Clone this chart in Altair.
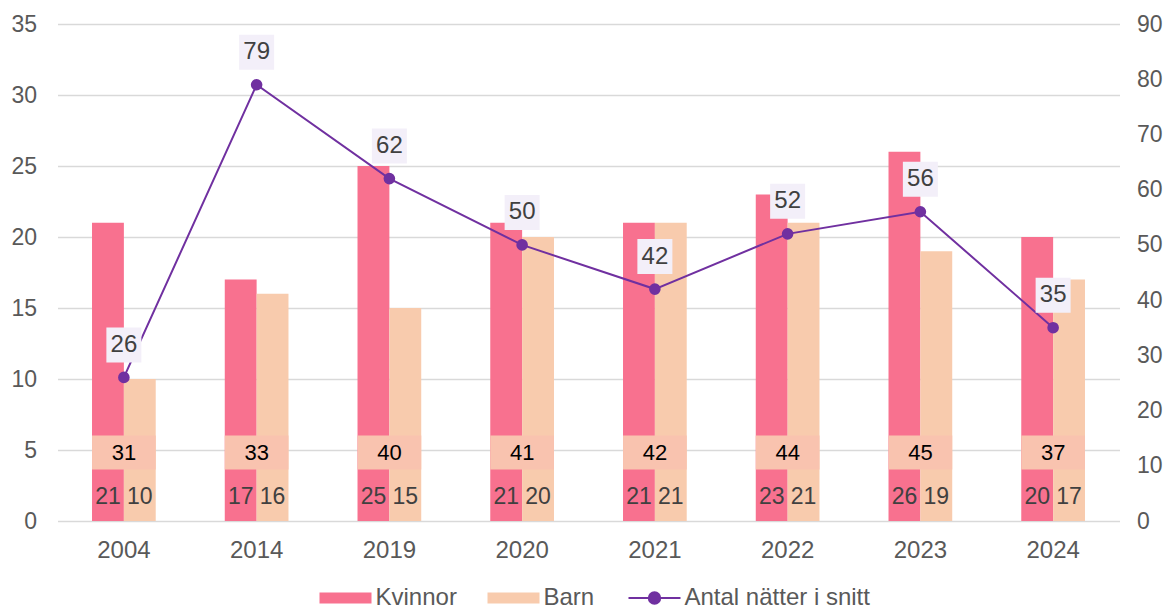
import altair as alt
import pandas as pd

years = ["2004", "2014", "2019", "2020", "2021", "2022", "2023", "2024"]
kvinnor = [21, 17, 25, 21, 21, 23, 26, 20]
barn = [10, 16, 15, 20, 21, 21, 19, 17]
totals = [31, 33, 40, 41, 42, 44, 45, 37]
natter = [26, 79, 62, 50, 42, 52, 56, 35]

series_names = ["Kvinnor", "Barn", "Antal nätter i snitt"]
series_colors = ["#F8718F", "#F8CBAD", "#7030A0"]

bars_df = pd.DataFrame(
    [{"year": y, "series": "Kvinnor", "value": v} for y, v in zip(years, kvinnor)]
    + [{"year": y, "series": "Barn", "value": v} for y, v in zip(years, barn)]
)
tot_df = pd.DataFrame({"year": years, "total": totals})
line_df = pd.DataFrame({"year": years, "natter": natter, "series": "Antal nätter i snitt"})

W, H = 1062, 497
FONT = "Liberation Sans"

xscale = alt.Scale(domain=years, paddingInner=0.52, paddingOuter=0.26)
x_enc = alt.X("year:N", scale=xscale, sort=years,
              axis=alt.Axis(title=None, domain=False, ticks=False, labelAngle=0,
                            labelFont=FONT, labelFontSize=24, labelColor="#595959",
                            labelPadding=17))
xoff = alt.XOffset("series:N", scale=alt.Scale(domain=["Kvinnor", "Barn"], paddingInner=0),
                   sort=["Kvinnor", "Barn"])

yl_scale = alt.Scale(domain=[0, 35], nice=False)
yr_scale = alt.Scale(domain=[0, 90], nice=False)

yl_axis = alt.Axis(title=None, values=list(range(0, 36, 5)), grid=True,
                   gridColor="#D9D9D9", gridWidth=1.5, domain=False, ticks=False,
                   labelFont=FONT, labelFontSize=23, labelColor="#595959",
                   labelPadding=21)

lineDot = "M-1,0H1M-0.22,0A0.22,0.22 0 1,1 0.22,0A0.22,0.22 0 1,1 -0.22,0Z"
rectSym = "M-1,-0.21H1V0.21H-1Z"

legend = alt.Legend(
    title=None, orient="none", direction="horizontal",
    legendX=276, legendY=562,
    symbolSize=2704, labelFont=FONT, labelFontSize=24, labelColor="#595959",
    labelOffset=18, columnPadding=30, symbolOpacity=1, labelLimit=500,
    symbolType=alt.ExprRef(expr="datum.value === 'Antal nätter i snitt' ? '%s' : '%s'" % (lineDot, rectSym)),
    symbolStrokeColor=alt.ExprRef(expr="scale('color', datum.value)"),
    symbolStrokeWidth=alt.ExprRef(expr="datum.value === 'Antal nätter i snitt' ? 2 : 0"),
)
color_enc = alt.Color("series:N", scale=alt.Scale(domain=series_names, range=series_colors),
                      legend=legend)

bars = alt.Chart(bars_df).mark_bar().encode(
    x=x_enc, xOffset=xoff,
    y=alt.Y("value:Q", scale=yl_scale, axis=yl_axis),
    color=color_enc,
)

bar_text = alt.Chart(bars_df).mark_text(
    dy=-24, baseline="middle", font=FONT, fontSize=23, color="#404040"
).encode(
    x=x_enc, xOffset=xoff,
    y=alt.YDatum(0, type="quantitative", scale=yl_scale, axis=yl_axis),
    text="value:Q",
)

tot_rect = alt.Chart(tot_df).mark_rect(color="#F9C3AF").encode(
    x=x_enc,
    y=alt.YDatum(3.63, type="quantitative", scale=yl_scale, axis=yl_axis),
    y2=alt.Y2Datum(6.02),
)

tot_text = alt.Chart(tot_df).mark_text(
    baseline="middle", font=FONT, fontSize=22, color="#000000"
).encode(
    x=x_enc,
    y=alt.YDatum(4.82, type="quantitative", scale=yl_scale, axis=yl_axis),
    text="total:Q",
)

left = alt.layer(bars, bar_text, tot_rect, tot_text)

y_r = alt.Y("natter:Q", scale=yr_scale,
            axis=alt.Axis(title=None, orient="right", values=list(range(0, 91, 10)), grid=False,
                          domain=False, ticks=False, labelFont=FONT, labelFontSize=23,
                          labelColor="#595959", labelPadding=17))

line = alt.Chart(line_df).mark_line(color="#7030A0", strokeWidth=2).encode(
    x=x_enc, y=y_r,
)
points = alt.Chart(line_df).mark_point(filled=True, size=135, opacity=1, shape="circle").encode(
    x=x_enc, y=y_r, color=color_enc,
)
boxes = alt.Chart(line_df).mark_square(size=1225, color="#F3EFF9", opacity=1, yOffset=-32.5).encode(
    x=x_enc, y=y_r,
)
labels = alt.Chart(line_df).mark_text(
    dy=-32.5, baseline="middle", font=FONT, fontSize=24, color="#404040"
).encode(
    x=x_enc, y=y_r, text="natter:Q",
)

right = alt.layer(line, points, boxes, labels)

chart = alt.layer(left, right).resolve_scale(y="independent").properties(
    width=W, height=H,
    autosize=alt.AutoSizeParams(type="none"),
    padding={"left": 49.5, "top": 16, "right": 43.5, "bottom": 88},
    background="white",
).configure_view(strokeWidth=0).configure_axis(domain=False)

chart.save("out.html", embed_options={"renderer": "svg", "actions": False})
